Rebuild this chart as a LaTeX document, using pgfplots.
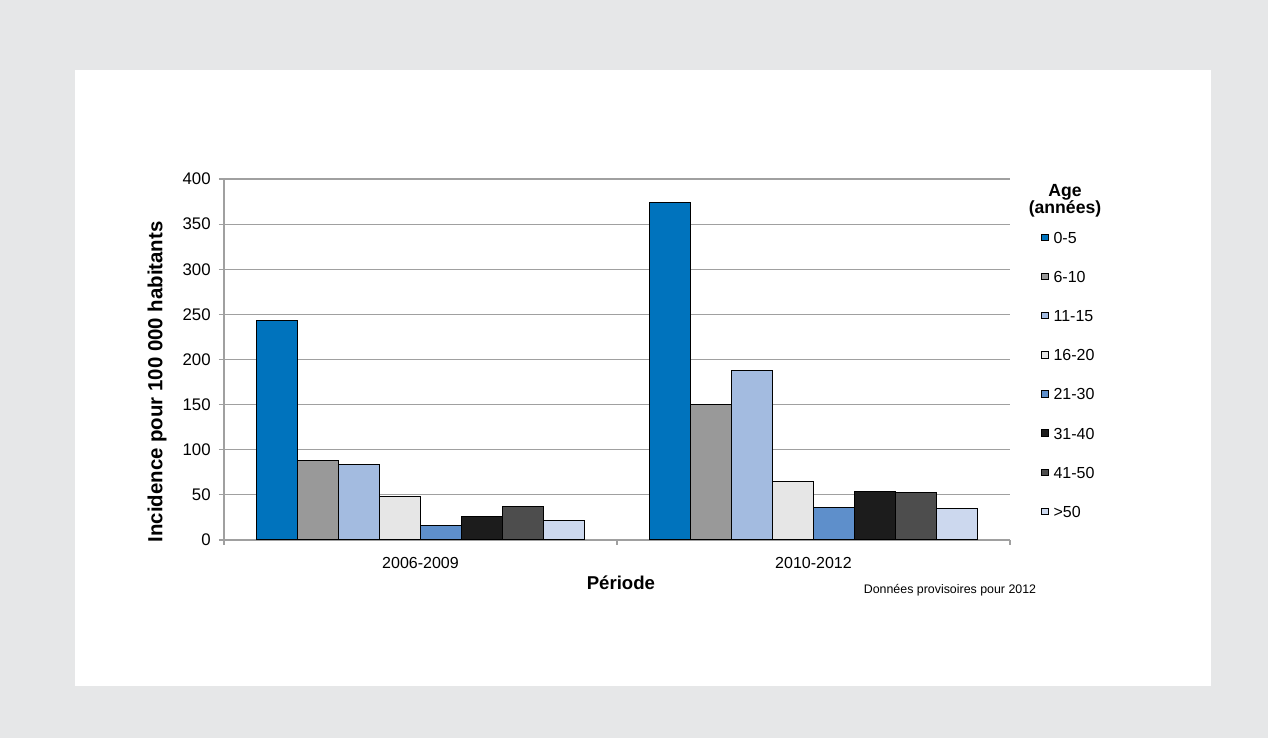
\documentclass[border=0pt]{standalone}
\usepackage{pgfplots}
\pgfplotsset{compat=1.18}
\usepackage{pgfplotstable}
\usepackage{fontspec}
\setmainfont{Liberation Sans}

\definecolor{bggray}{RGB}{230,231,232}
\definecolor{axgray}{RGB}{160,160,160}
\definecolor{ca}{RGB}{0,115,189}
\definecolor{cb}{RGB}{153,153,153}
\definecolor{cc}{RGB}{163,187,224}
\definecolor{cd}{RGB}{230,230,230}
\definecolor{ce}{RGB}{94,143,203}
\definecolor{cf}{RGB}{28,28,28}
\definecolor{cg}{RGB}{77,77,77}
\definecolor{ch}{RGB}{204,216,238}

% incidence per 100 000, by period (0 = 2006-2009, 1 = 2010-2012)
\pgfplotstableread{
x a b c d e f g h
0 243 88 84 48 16 26 37 22
1 374 150 188 65 35.5 53.5 53 34.7
}\incid

\pgfplotsset{
  sq/.style={legend image code/.code={
    \draw[##1,/tikz/.cd,line width=0.4pt] (0pt,-1.6pt) rectangle (3.2pt,1.6pt);}},
}

\begin{document}
\begin{tikzpicture}
  \fill[bggray] (-112pt,-99pt) rectangle (522pt,270pt);
  \fill[white] (-74.5pt,-73pt) rectangle (493.5pt,235pt);
  \begin{axis}[
    at={(0,0)}, anchor=south west,
    scale only axis,
    width=393pt, height=180.5pt,
    ybar=0pt,
    bar width=20.5pt,
    xmin=-0.5, xmax=1.5,
    ymin=0, ymax=400,
    ytick={0,50,...,400},
    xtick={-0.5,0.5,1.5},
    xticklabels={},
    extra x ticks={0,1},
    extra x tick labels={2006-2009,2010-2012},
    extra x tick style={tick style={draw=none}, grid=none},
    axis x line*=bottom,
    axis y line*=left,
    axis line style={draw=axgray, line width=0.6pt, -},
    tick style={draw=axgray, line width=0.6pt},
    tick align=outside,
    major tick length=2.5pt,
    ymajorgrids=true,
    grid style={draw=axgray, line width=0.6pt},
    /pgf/number format/assume math mode=true,
    ticklabel style={font=\fontsize{8}{9.6}\selectfont},
    yticklabel style={anchor=east, inner sep=0pt, xshift=-4pt,
      font=\fontsize{8.4}{10}\selectfont},
    xticklabel style={anchor=north, inner sep=0pt, yshift=-6pt},
    ylabel={Incidence pour 100 000 habitants},
    ylabel style={at={(axis description cs:-0.0852,0.438)}, anchor=center,
      font=\bfseries\fontsize{10.2}{12}\selectfont},
    xlabel={Période},
    xlabel style={at={(axis description cs:0.505,0)}, anchor=center,
      yshift=-21.5pt, font=\bfseries\fontsize{9.3}{11}\selectfont},
    legend style={draw=none, fill=none, at={(1.0394,0.856)},
      anchor=north west, inner sep=0pt, row sep=13.57pt,
      column sep=2.5pt, cells={anchor=west},
      nodes={inner sep=0pt, text height=6pt, text depth=0pt,
        font=\fontsize{8}{9.6}\selectfont}},
    every axis plot/.append style={draw=black, line width=0.5pt},
  ]
    \addplot[fill=ca, sq] table[x=x, y=a] {\incid};
    \addplot[fill=cb, sq] table[x=x, y=b] {\incid};
    \addplot[fill=cc, sq] table[x=x, y=c] {\incid};
    \addplot[fill=cd, sq] table[x=x, y=d] {\incid};
    \addplot[fill=ce, sq] table[x=x, y=e] {\incid};
    \addplot[fill=cf, sq] table[x=x, y=f] {\incid};
    \addplot[fill=cg, sq] table[x=x, y=g] {\incid};
    \addplot[fill=ch, sq] table[x=x, y=h] {\incid};
    \legend{0-5,6-10,11-15,16-20,21-30,31-40,41-50,>50}
  \end{axis}
  \node[align=center, font=\bfseries\fontsize{8.8}{8.6}\selectfont]
    at (420.5pt,169.5pt) {Age\\(années)};
  \node[font=\fontsize{6.2}{7}\selectfont] at (363pt,-25pt)
    {Données provisoires pour 2012};
\end{tikzpicture}
\end{document}
